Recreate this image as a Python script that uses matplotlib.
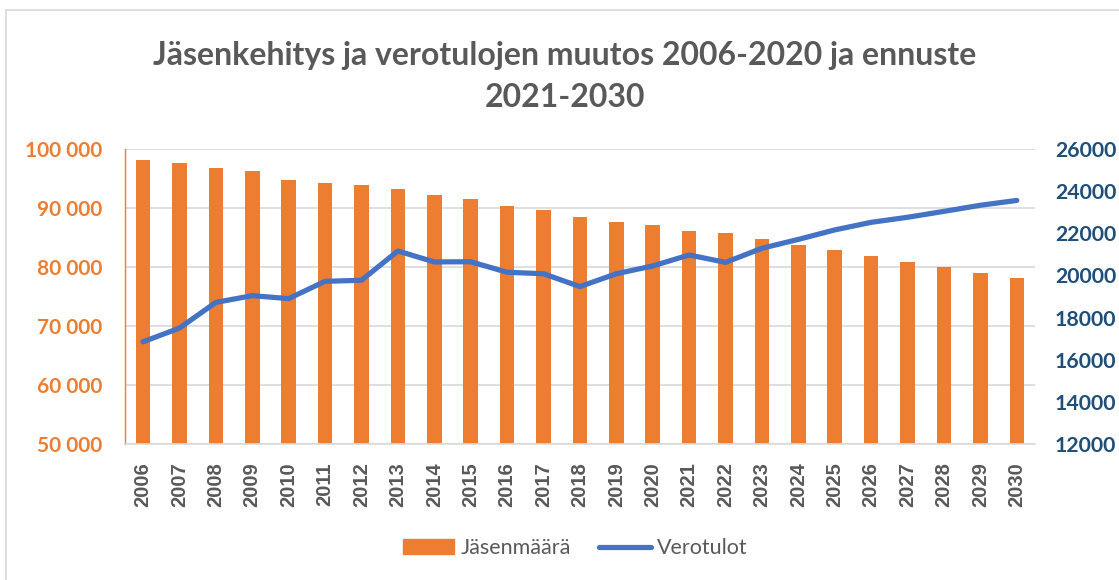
import matplotlib
matplotlib.use("Agg")
import matplotlib.pyplot as plt
from matplotlib.patches import Rectangle
from matplotlib.lines import Line2D
from matplotlib.ticker import FuncFormatter, MultipleLocator

years = [str(y) for y in range(2006, 2031)]
jasenmaara = [98100, 97600, 96800, 96300, 94800, 94200, 93950, 93300, 92200, 91500,
              90300, 89600, 88400, 87600, 87100, 86150, 85750, 84800, 83750, 82900,
              81850, 80900, 79950, 79050, 78100]
verotulot = [16850, 17500, 18720, 19040, 18900, 19720, 19770, 21160, 20640, 20650,
             20150, 20080, 19470, 20080, 20450, 20970, 20620, 21290, 21710, 22160,
             22520, 22760, 23040, 23330, 23560]

orange = "#ED7D31"
blue = "#4472C4"
fam = ["Lato", "DejaVu Sans"]
plt.rcParams["font.family"] = fam

fig = plt.figure(figsize=(11.19, 5.8), dpi=100)
fig.patches.append(Rectangle((6/1119, -0.1), 1.2, (580-10)/580 + 0.1, transform=fig.transFigure,
                             fill=False, edgecolor="#D9D9D9", linewidth=1.2))

ax = fig.add_axes([124.8/1119, (580-444)/580, (1035-124.8)/1119, (444-149)/580])
x = list(range(len(years)))
ax.bar(x, jasenmaara, width=0.4, color=orange, zorder=2)
ax.set_ylim(50000, 100000)
ax.set_xlim(-0.5, len(years) - 0.5)
ax.yaxis.set_major_locator(MultipleLocator(10000))
ax.yaxis.set_major_formatter(FuncFormatter(lambda v, p: f"{int(v):,}".replace(",", " ")))
ax.grid(axis="y", color="#D9D9D9", linewidth=1.2, zorder=0)
ax.set_axisbelow(True)
for s in ["top", "right"]:
    ax.spines[s].set_visible(False)
ax.spines["left"].set_color(orange)
ax.spines["left"].set_linewidth(1.0)
ax.spines["bottom"].set_color("#D9D9D9")
ax.spines["bottom"].set_linewidth(1.2)
ax.tick_params(axis="y", length=0, pad=16.5, labelsize=15, labelcolor=orange)
ax.tick_params(axis="x", length=0, pad=13, labelsize=14.5, labelcolor="#595959")
ax.set_xticks(x)
ax.set_xticklabels(years, rotation=90, fontweight="bold", family=["Liberation Sans", "DejaVu Sans"])
for t in ax.get_yticklabels():
    t.set_fontweight("bold")

ax2 = ax.twinx()
ax2.plot(x, verotulot, color=blue, linewidth=3.75, solid_capstyle="round", zorder=3)
ax2.set_ylim(12000, 26000)
ax2.yaxis.set_major_locator(MultipleLocator(2000))
for s in ["top", "right", "left", "bottom"]:
    ax2.spines[s].set_visible(False)
ax2.tick_params(axis="y", length=0, pad=14.4, labelsize=15.3, labelcolor="#1F4E79")
for t in ax2.get_yticklabels():
    t.set_fontweight("bold")

fig.text(0.505, 1 - 55/580, "Jäsenkehitys ja verotulojen muutos 2006-2020 ja ennuste",
         ha="center", va="center", fontsize=23, fontweight="bold", color="#595959")
fig.text(0.505, 1 - 97/580, "2021-2030",
         ha="center", va="center", fontsize=23, fontweight="bold", color="#595959")

handles = [Rectangle((0, 0), 1, 1, color=orange),
           Line2D([0], [0], color=blue, linewidth=3.75, solid_capstyle="round")]
fig.legend(handles, ["Jäsenmäärä", "Verotulot"], loc="center", bbox_to_anchor=(0.514, 1 - 548/580),
           ncol=2, frameon=False, fontsize=15.5, labelcolor="#595959",
           handlelength=2.4, handleheight=0.65, handletextpad=0.3, columnspacing=1.3)

fig.savefig("out.png", dpi=100)
